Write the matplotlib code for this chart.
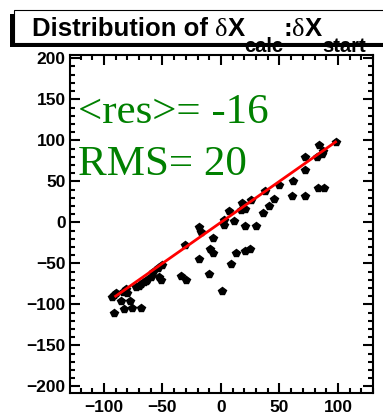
import matplotlib

matplotlib.use("Agg")
from matplotlib import pyplot as plt
from matplotlib.patches import Rectangle
from matplotlib.ticker import MultipleLocator

# residual scatter: calculated vs starting displacement
dx_start = [98, 84, 87, 86, 82, 72, 72, 62, 50, 38, 61, 72, 83, 88, 45, 41, 36, 26,
            18, 21, 17, 7, 11, 3, 3, 21, 30, -19, -17, -7, -31, -9, -7, -19, 13, 21,
            25, 9, -10, 1, -34, -30, -50, -54, -58, -60, -53, -51, -63, -66, -70,
            -73, -68, -64, -81, -84, -90, -80, -93, -91, -85, -78, -76, -83, -91, -68]
dx_calc = [98, 94, 87, 83, 80, 80, 64, 50, 46, 38, 32, 32, 42, 42, 28, 20, 12, 27,
           24, 16, 15, 14, 2, 3, -3, -4, -4, -6, -12, -19, -27, -32, -37, -45, -37, -35,
           -33, -51, -63, -84, -65, -70, -52, -56, -61, -66, -67, -70, -70, -73, -77,
           -79, -75, -71, -81, -85, -86, -86, -91, -88, -96, -96, -104, -106, -110, -104]

# fitted line end points
fit_x = [-90, 98]
fit_y = [-90, 98]

mean_res = -16
rms = 20

W, H = 383, 416
FONT = "Liberation Sans"
SERIF = "Liberation Serif"


def fig_xy(x, y):
    return x / W, 1 - y / H


def main() -> None:
    fig = plt.figure(figsize=(W / 100, H / 100), dpi=100)
    ax = fig.add_axes([70 / W, 1 - 393 / H, 303 / W, 338 / H])

    ax.plot(dx_start, dx_calc, linestyle="none", marker="p", markersize=5.5,
            color="black", zorder=2)
    ax.plot(fit_x, fit_y, color="red", linewidth=2, zorder=3)

    ax.set_xlim(-129, 130)
    ax.set_ylim(-208, 204)
    ax.xaxis.set_major_locator(MultipleLocator(50))
    ax.xaxis.set_minor_locator(MultipleLocator(10))
    ax.yaxis.set_major_locator(MultipleLocator(50))
    ax.yaxis.set_minor_locator(MultipleLocator(10))
    ax.tick_params(which="both", direction="in", top=True, right=True, width=1.5)
    ax.tick_params(which="major", length=7)
    ax.tick_params(which="minor", length=3.5)
    ax.tick_params(axis="x", pad=5)
    ax.tick_params(axis="y", pad=3)
    for label in ax.get_xticklabels() + ax.get_yticklabels():
        label.set_fontfamily(FONT)
        label.set_fontweight("bold")
        label.set_fontsize(12.5)
    for spine in ax.spines.values():
        spine.set_linewidth(1.5)

    ax.text(0.025, 0.8, f"<res>= {mean_res}", transform=ax.transAxes,
            family=SERIF, fontsize=31, color="#008000", va="baseline")
    ax.text(0.025, 0.645, f"RMS= {rms}", transform=ax.transAxes,
            family=SERIF, fontsize=31, color="#008000", va="baseline")

    # title box with shadow
    fig.patches.append(Rectangle(fig_xy(10, 47), 400 / W, 33 / H, transform=fig.transFigure,
                                 facecolor="black", edgecolor="none", zorder=1))
    fig.patches.append(Rectangle(fig_xy(14, 43), 400 / W, 33 / H, transform=fig.transFigure,
                                 facecolor="white", edgecolor="black", linewidth=0.8, zorder=2))

    renderer = fig.canvas.get_renderer()
    pieces = [
        ("Distribution of ", FONT, "bold", 18.5, 0),
        ("\u03b4", SERIF, "normal", 19, 0),
        ("X", FONT, "bold", 18.5, 0),
        ("calc", FONT, "bold", 14.5, 16),
        (":", FONT, "bold", 18.5, 0),
        ("\u03b4", SERIF, "normal", 19, 0),
        ("X", FONT, "bold", 18.5, 0),
        ("start", FONT, "bold", 14.5, 16),
    ]
    x = 32
    for text, family, weight, size, drop in pieces:
        t = fig.text(*fig_xy(x, 36 + drop), text, family=family, fontweight=weight,
                     fontsize=size, va="baseline", ha="left", zorder=5)
        x += t.get_window_extent(renderer).width

    fig.savefig("out.png", dpi=100)
    plt.close(fig)


if __name__ == "__main__":
    main()
